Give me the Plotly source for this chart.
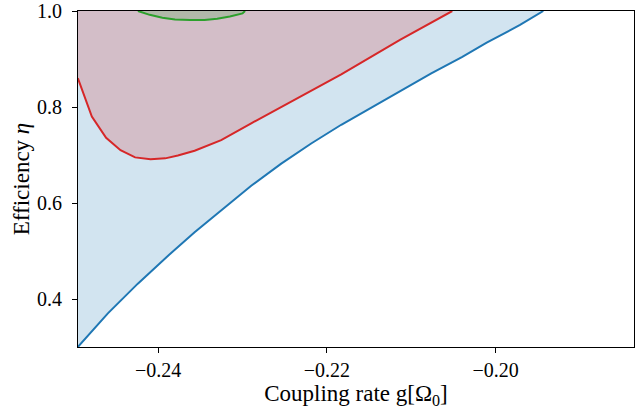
import plotly.graph_objects as go

# Blue curve (lower bound)
blue_x = [-0.24952, -0.24596, -0.24241, -0.24004, -0.23846, -0.23568, -0.23253, -0.22897,
          -0.22541, -0.22186, -0.21830, -0.21474, -0.21118, -0.20763, -0.20400, -0.20106,
          -0.19711, -0.19435]
blue_y = [0.300, 0.370, 0.432, 0.471, 0.496, 0.539, 0.585, 0.636,
          0.682, 0.724, 0.763, 0.799, 0.835, 0.870, 0.904, 0.934,
          0.971, 1.000]

# Red curve
red_x = [-0.24952, -0.24786, -0.24617, -0.24446, -0.24273, -0.24090, -0.23916, -0.23766,
         -0.23568, -0.23253, -0.22897, -0.22541, -0.22186, -0.21830, -0.21134, -0.20514]
red_y = [0.860, 0.780, 0.736, 0.710, 0.695, 0.691, 0.693, 0.699,
         0.709, 0.731, 0.766, 0.800, 0.834, 0.868, 0.940, 1.000]

# Green curve
green_x = [-0.2424, -0.2410, -0.2395, -0.2380, -0.2362, -0.2345, -0.2330, -0.2315, -0.2300, -0.2297]
green_y = [1.000, 0.992, 0.986, 0.9825, 0.981, 0.9815, 0.984, 0.9885, 0.995, 1.000]

x_range = [-0.2495, -0.1836]
y_range = [0.3, 1.0]
x_ticks = [-0.24, -0.22, -0.20]
x_ticklabels = ["\u22120.24", "\u22120.22", "\u22120.20"]
y_ticks = [0.4, 0.6, 0.8, 1.0]
y_ticklabels = ["0.4", "0.6", "0.8", "1.0"]

series = [
    (blue_x, blue_y, "#1f77b4", "rgba(31,119,180,0.2)"),
    (red_x, red_y, "#d62728", "rgba(214,39,40,0.2)"),
    (green_x, green_y, "#2ca02c", "rgba(44,160,44,0.2)"),
]

fig = go.Figure()
for xs, ys, col, fcol in series:
    # fill region between curve and y = 1
    fig.add_trace(go.Scatter(
        x=list(xs) + list(xs)[::-1],
        y=list(ys) + [1.0] * len(xs),
        fill="toself", fillcolor=fcol, line=dict(width=0),
        mode="lines", hoverinfo="skip", showlegend=False))
for xs, ys, col, fcol in series:
    fig.add_trace(go.Scatter(x=xs, y=ys, mode="lines",
                             line=dict(color=col, width=2), showlegend=False))

font_family = "Liberation Serif"
fig.update_layout(
    width=641, height=411,
    margin=dict(l=78, r=7, t=11, b=64),
    plot_bgcolor="white", paper_bgcolor="white",
    font=dict(family=font_family, size=20, color="black"),
)
fig.update_xaxes(
    range=x_range, tickvals=x_ticks, ticktext=x_ticklabels,
    showline=True, linecolor="black", linewidth=1.2, mirror=True,
    ticks="outside", ticklen=5, tickwidth=1.2, tickcolor="black",
    showgrid=False, zeroline=False, automargin=False,
    title=dict(text="Coupling rate g[\u03a9<sub>0</sub>]", font=dict(size=23), standoff=1),
    tickfont=dict(size=20),
)
fig.update_yaxes(
    range=y_range, tickvals=y_ticks, ticktext=y_ticklabels,
    showline=True, linecolor="black", linewidth=1.2, mirror=True,
    ticks="outside", ticklen=5, tickwidth=1.2, tickcolor="black",
    showgrid=False, zeroline=False, automargin=False, ticklabelstandoff=6,
    ticklabeloverflow="allow",
    title=dict(text="Efficiency <i>\u03b7</i>", font=dict(size=23), standoff=0),
    tickfont=dict(size=20),
)

# remove the browser's default 8px body margin so the figure fills the window
fig.write_html("out.html", config={"displayModeBar": False},
               post_script="document.body.style.margin='0';")
